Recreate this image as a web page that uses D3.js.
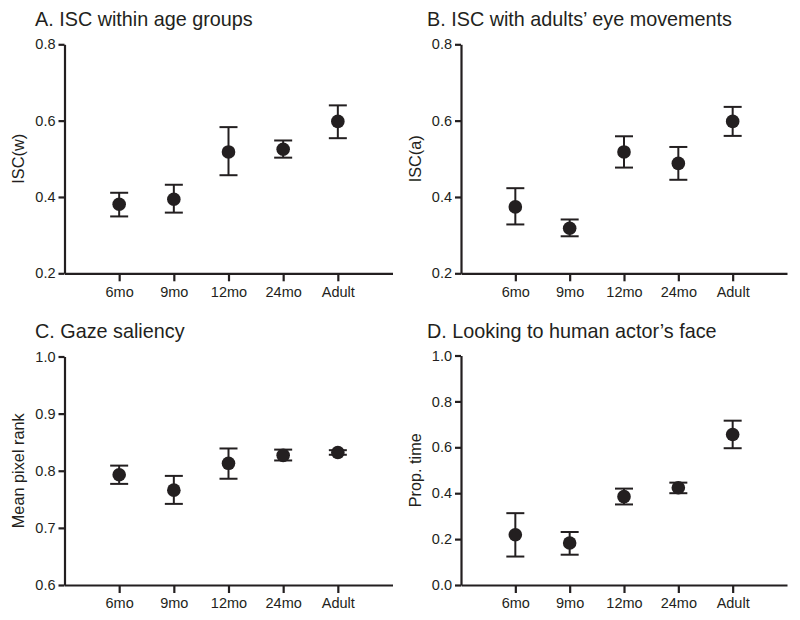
<!DOCTYPE html>
<html>
<head>
<meta charset="utf-8">
<script src="https://cdn.jsdelivr.net/npm/d3@7"></script>
<style>
  body { margin: 0; background: #fff; }
  .axis path, .axis line { stroke: #231f20; stroke-width: 2.2; }
</style>
</head>
<body>
<svg width="800" height="620"></svg>
<script>
const categories = ["6mo", "9mo", "12mo", "24mo", "Adult"];

// A. ISC within age groups
const iscWMean = [0.381, 0.394, 0.518, 0.525, 0.598];
const iscWLow  = [0.349, 0.359, 0.457, 0.503, 0.554];
const iscWHigh = [0.411, 0.432, 0.583, 0.548, 0.640];

// B. ISC with adults' eye movements
const iscAMean = [0.374, 0.318, 0.518, 0.488, 0.598];
const iscALow  = [0.328, 0.297, 0.477, 0.445, 0.560];
const iscAHigh = [0.423, 0.341, 0.559, 0.531, 0.636];

// C. Gaze saliency
const salMean = [0.793, 0.766, 0.813, 0.827, 0.832];
const salLow  = [0.777, 0.742, 0.786, 0.818, 0.828];
const salHigh = [0.809, 0.791, 0.839, 0.837, 0.836];

// D. Looking to human actor's face
const faceMean = [0.219, 0.183, 0.385, 0.424, 0.656];
const faceLow  = [0.124, 0.132, 0.351, 0.400, 0.596];
const faceHigh = [0.313, 0.231, 0.420, 0.446, 0.716];

const ticksISC = [0.2, 0.4, 0.6, 0.8];
const ticksSal = [0.6, 0.7, 0.8, 0.9, 1.0];
const ticksFace = [0.0, 0.2, 0.4, 0.6, 0.8, 1.0];

const ink = "#231f20";
const font = "'Liberation Sans', Arial, Helvetica, sans-serif";
const svg = d3.select("svg");

const panels = [
  {title: "A. ISC within age groups", ylabel: "ISC(w)", mean: iscWMean, low: iscWLow, high: iscWHigh,
   domain: [0.2, 0.8], ticks: ticksISC,
   left: 64.5, right: 392.5, top: 44.3, bottom: 273.3, titleX: 35, titleY: 26, labelX: 18},
  {title: "B. ISC with adults\u2019 eye movements", ylabel: "ISC(a)", mean: iscAMean, low: iscALow, high: iscAHigh,
   domain: [0.2, 0.8], ticks: ticksISC,
   left: 461, right: 787, top: 44.3, bottom: 273.3, titleX: 427, titleY: 26, labelX: 415},
  {title: "C. Gaze saliency", ylabel: "Mean pixel rank", mean: salMean, low: salLow, high: salHigh,
   domain: [0.6, 1.0], ticks: ticksSal,
   left: 64.5, right: 392.5, top: 356.5, bottom: 585, titleX: 35, titleY: 338, labelX: 18},
  {title: "D. Looking to human actor\u2019s face", ylabel: "Prop. time", mean: faceMean, low: faceLow, high: faceHigh,
   domain: [0.0, 1.0], ticks: ticksFace,
   left: 461, right: 787, top: 355.5, bottom: 585, titleX: 427, titleY: 338, labelX: 415}
];

panels.forEach(function (p) {
  const x = d3.scalePoint().domain(categories).range([p.left, p.right]).padding(1);
  const y = d3.scaleLinear().domain(p.domain).range([p.bottom, p.top]);

  const g = svg.append("g");

  g.append("text")
    .attr("x", p.titleX)
    .attr("y", p.titleY)
    .attr("font-family", font)
    .attr("font-size", 19.8)
    .attr("fill", ink)
    .text(p.title);

  const xAxis = g.append("g")
    .attr("class", "axis")
    .attr("transform", "translate(0," + p.bottom + ")")
    .call(d3.axisBottom(x).tickSize(8).tickSizeOuter(0).tickPadding(5));

  const yAxis = g.append("g")
    .attr("class", "axis")
    .attr("transform", "translate(" + p.left + ",0)")
    .call(d3.axisLeft(y).tickValues(p.ticks).tickFormat(d3.format(".1f")).tickSize(6).tickSizeOuter(0).tickPadding(3));

  [xAxis, yAxis].forEach(function (a) {
    a.attr("font-family", font).attr("font-size", 14.5);
    a.selectAll("text").attr("fill", ink);
  });

  g.append("text")
    .attr("transform", "translate(" + p.labelX + "," + ((p.top + p.bottom) / 2) + ") rotate(-90)")
    .attr("text-anchor", "middle")
    .attr("dy", "0.35em")
    .attr("font-family", font)
    .attr("font-size", 16.3)
    .attr("fill", ink)
    .text(p.ylabel);

  const pts = categories.map(function (c, i) {
    return {cat: c, mean: p.mean[i], low: p.low[i], high: p.high[i]};
  });

  const bars = g.selectAll(".err")
    .data(pts)
    .enter()
    .append("g")
    .attr("class", "err")
    .attr("stroke", ink)
    .attr("stroke-width", 2);

  bars.append("line")
    .attr("x1", d => x(d.cat)).attr("x2", d => x(d.cat))
    .attr("y1", d => y(d.low)).attr("y2", d => y(d.high));
  bars.append("line")
    .attr("x1", d => x(d.cat) - 9).attr("x2", d => x(d.cat) + 9)
    .attr("y1", d => y(d.high)).attr("y2", d => y(d.high));
  bars.append("line")
    .attr("x1", d => x(d.cat) - 9).attr("x2", d => x(d.cat) + 9)
    .attr("y1", d => y(d.low)).attr("y2", d => y(d.low));

  g.selectAll(".dot")
    .data(pts)
    .enter()
    .append("circle")
    .attr("class", "dot")
    .attr("cx", d => x(d.cat))
    .attr("cy", d => y(d.mean))
    .attr("r", 6.8)
    .attr("fill", ink);
});
</script>
</body>
</html>
